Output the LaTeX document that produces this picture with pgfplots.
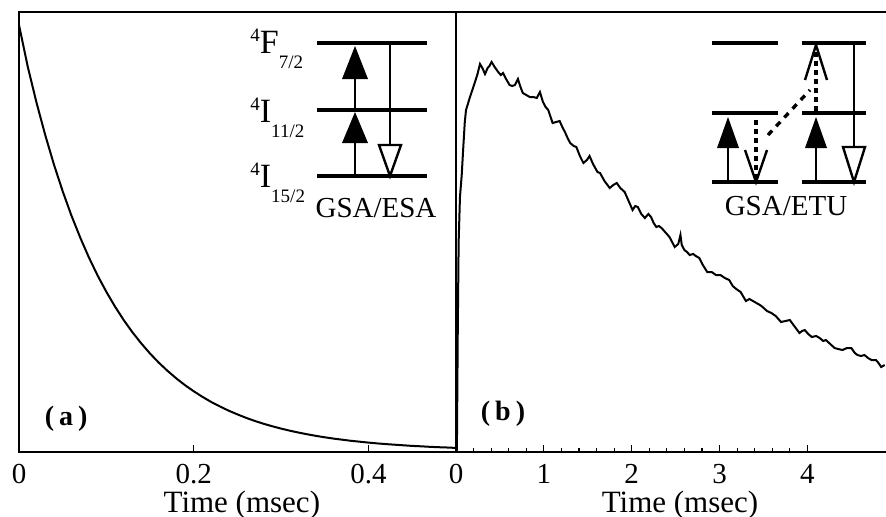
\documentclass[border=0pt]{standalone}
\usepackage{fontspec}
\setmainfont{Liberation Serif}
\usepackage{pgfplots}
\pgfplotsset{compat=1.18}
\begin{document}
\begin{tikzpicture}
\useasboundingbox (0,0) rectangle (443pt,258pt);
\clip (0,0) rectangle (443pt,258pt);
\pgfplotsset{
  every axis/.append style={
    scale only axis, height=220pt, ymin=0, ymax=440, ytick=\empty,
    axis line style={line width=0.7pt},
    major tick length=3.5pt, minor tick length=2pt,
    every tick/.style={black, line width=0.6pt},
    tick align=inside, xtick pos=left,
    /pgf/number format/assume math mode=true,
    xticklabel style={font=\fontsize{14.5}{14.5}\selectfont, anchor=north, inner sep=0pt, yshift=-6pt},
    xlabel style={font=\fontsize{15.5}{15.5}\selectfont, anchor=base, yshift=-2pt},
  }
}
% panel (a)
\begin{axis}[at={(9.5pt,32pt)}, anchor=south west, width=218.5pt,
  xmin=0, xmax=0.5, xtick={0,0.2,0.4}, xticklabels={0,0.2,0.4},
  xlabel={Time (msec)}, xlabel style={at={(axis description cs:0.51,0)}, yshift=-28pt}]
\addplot[black, line width=1pt] coordinates {
(0,427) (0.01,385.4) (0.02,349.5) (0.03,317) (0.04,287.4) (0.05,260.7)
(0.06,236.4) (0.07,214.5) (0.08,194.5) (0.09,176.4) (0.10,160.1)
(0.11,145.2) (0.12,131.7) (0.13,119.5) (0.14,108.5) (0.15,98.4)
(0.16,89.3) (0.17,81.1) (0.18,73.6) (0.19,66.8) (0.20,60.7)
(0.21,55.1) (0.22,50) (0.23,45.5) (0.24,41.3) (0.25,37.6)
(0.26,34.1) (0.27,31) (0.28,28.2) (0.29,25.7) (0.30,23.4)
(0.31,21.3) (0.32,19.4) (0.33,17.7) (0.34,16.1) (0.35,14.7)
(0.36,13.4) (0.37,12.3) (0.38,11.2) (0.39,10.3) (0.40,9.4)
(0.41,8.6) (0.42,7.9) (0.43,7.3) (0.44,6.7) (0.45,6.1)
(0.46,5.7) (0.47,5.2) (0.48,4.8) (0.49,4.5) (0.50,4.1)
};
\node[font=\bfseries\fontsize{14}{14}\selectfont] at (axis cs:0.054,33) {(\hspace{0.18em}a\hspace{0.18em})};
\end{axis}
% panel (b)
\begin{axis}[at={(228pt,32pt)}, anchor=south west, width=224pt,
  xmin=0, xmax=5.1, xtick={0,1,2,3,4}, xticklabels={0,1,2,3,4}, minor x tick num=4,
  xlabel={Time (msec)}, xlabel style={at={(axis description cs:0.5,0)}, yshift=-28pt}]
\addplot[black, line width=1pt] coordinates {
(0,1) (0.01,2) (0.02,120) (0.03,210) (0.045,255) (0.065,277) (0.083,305)
(0.10,330) (0.114,342) (0.135,348) (0.159,355) (0.19,363) (0.216,370)
(0.245,378) (0.273,388) (0.30,384) (0.33,378) (0.36,384) (0.38,386)
(0.405,390) (0.44,385) (0.48,380) (0.51,377) (0.535,379) (0.57,373)
(0.61,367) (0.64,366) (0.67,367) (0.705,373) (0.73,366) (0.76,359)
(0.80,357) (0.84,355) (0.88,355) (0.92,354) (0.955,360) (0.99,350)
(1.02,345) (1.05,342) (1.10,329) (1.14,330) (1.18,331) (1.21,325)
(1.24,320) (1.27,314) (1.30,309) (1.34,306) (1.37,305) (1.41,296)
(1.45,289) (1.49,292) (1.52,296) (1.56,288) (1.61,280) (1.64,279)
(1.69,271) (1.75,264) (1.79,267) (1.83,269) (1.87,264) (1.92,260)
(1.96,252) (2.01,242) (2.04,246) (2.07,245) (2.11,238) (2.15,234)
(2.19,238) (2.22,235) (2.25,229) (2.28,225) (2.31,226) (2.34,224)
(2.38,220) (2.43,215) (2.46,210) (2.49,205) (2.53,208) (2.555,217)
(2.57,207) (2.60,202) (2.63,200) (2.66,197) (2.70,198) (2.73,196)
(2.77,194) (2.81,187) (2.86,180) (2.91,180) (2.96,177) (3.01,177)
(3.06,174) (3.11,172) (3.15,166) (3.19,163) (3.24,160) (3.30,151)
(3.34,153) (3.38,151) (3.42,149) (3.46,147) (3.49,145) (3.54,141)
(3.59,139) (3.64,136) (3.70,130) (3.75,131) (3.80,132) (3.85,126)
(3.91,119) (3.94,121) (3.97,122) (4.01,118) (4.05,115) (4.10,116)
(4.14,114) (4.18,111) (4.21,112) (4.26,108) (4.31,104) (4.35,103)
(4.40,102) (4.45,104) (4.50,104) (4.54,99) (4.57,97) (4.61,96)
(4.65,97) (4.69,94) (4.73,92) (4.78,92) (4.81,89) (4.84,85) (4.88,87)
};
\node[font=\bfseries\fontsize{14}{14}\selectfont] at (axis cs:0.535,38) {(\hspace{0.18em}b\hspace{0.18em})};
\end{axis}
% insets (pixel coordinates)
\begin{scope}[x=0.5pt, y=-0.5pt, yshift=258pt]
  % inset (a)
  \draw[line width=1.6pt] (317,43) -- (427,43) (317,110) -- (427,110) (317,176) -- (427,176);
  \draw[line width=1.2pt] (355,176) -- (355,143) (355,110) -- (355,79);
  \fill (355,112) -- (342,143) -- (368,143) -- cycle;
  \fill (355,46) -- (342,79) -- (368,79) -- cycle;
  \draw[line width=1.2pt] (390,43) -- (390,145);
  \draw[line width=1.2pt, fill=white, line join=miter] (379,145) -- (401,145) -- (390,176) -- cycle;
  \node[anchor=base west, inner sep=0pt, font=\fontsize{17}{17}\selectfont] at (250,53)
    {\raisebox{6pt}{\fontsize{9.5}{9.5}\selectfont 4}F\raisebox{-7.5pt}{\fontsize{9.5}{9.5}\selectfont 7/2}};
  \node[anchor=base west, inner sep=0pt, font=\fontsize{17}{17}\selectfont] at (250,122)
    {\raisebox{6pt}{\fontsize{9.5}{9.5}\selectfont 4}I\raisebox{-7.5pt}{\fontsize{9.5}{9.5}\selectfont 11/2}};
  \node[anchor=base west, inner sep=0pt, font=\fontsize{17}{17}\selectfont] at (250,187)
    {\raisebox{6pt}{\fontsize{9.5}{9.5}\selectfont 4}I\raisebox{-7.5pt}{\fontsize{9.5}{9.5}\selectfont 15/2}};
  \node[anchor=base, inner sep=0pt, font=\fontsize{14.5}{14.5}\selectfont] at (376,217) {GSA/ESA};
  % inset (b)
  \draw[line width=1.6pt] (712,43) -- (778,43) (802,43) -- (866,43)
    (712,113) -- (778,113) (802,113) -- (866,113)
    (712,182) -- (778,182) (802,182) -- (866,182);
  \draw[line width=1.2pt] (728,182) -- (728,147) (816,182) -- (816,147);
  \fill (728,117) -- (717,148) -- (739,148) -- cycle;
  \fill (816,117) -- (805,148) -- (827,148) -- cycle;
  \draw[line width=1.6pt, dash pattern=on 2.5pt off 2pt] (756,120) -- (756,178);
  \draw[line width=1.2pt] (745,150) -- (756,182) -- (767,150);
  \draw[line width=1.6pt, dash pattern=on 2.5pt off 2pt] (816,111) -- (816,50);
  \draw[line width=1.2pt] (805,80) -- (816,45) -- (827,80);
  \draw[line width=1.7pt, dash pattern=on 3pt off 3pt] (768,135) -- (810,90);
  \draw[line width=1.2pt] (854,43) -- (854,147);
  \draw[line width=1.2pt, fill=white, line join=miter] (843,147) -- (865,147) -- (854,182) -- cycle;
  \node[anchor=base, inner sep=0pt, font=\fontsize{14.5}{14.5}\selectfont] at (786,215) {GSA/ETU};
\end{scope}
\end{tikzpicture}
\end{document}
